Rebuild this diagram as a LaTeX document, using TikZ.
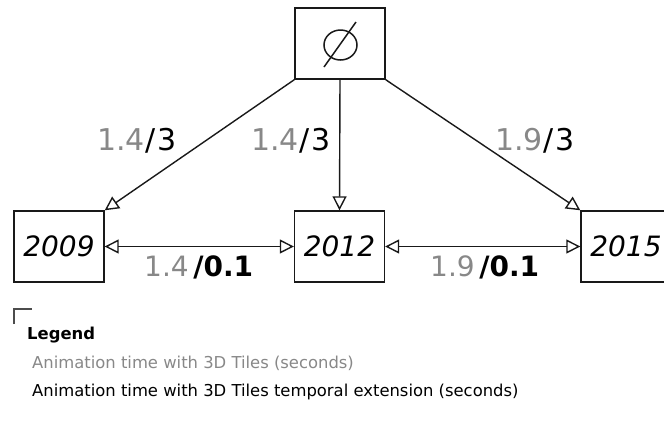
\documentclass[tikz,border=0pt]{standalone}
\usepackage{fontspec}
\setmainfont{DejaVu Sans}
\usetikzlibrary{arrows.meta}
\definecolor{lgray}{RGB}{136,136,136}
\definecolor{lineclr}{RGB}{25,25,25}
\begin{document}
\begin{tikzpicture}[x=1pt,y=-1pt,
  box/.style={draw=lineclr, line width=1.4pt, minimum width=90pt, minimum height=71pt, inner sep=0pt, font=\fontsize{28}{30}\selectfont\itshape},
  conn/.style={draw=lineclr, line width=1.4pt, -{Triangle[open,length=14pt,width=14pt]}},
  bconn/.style={draw=lineclr, line width=1.4pt, {Triangle[open,length=14pt,width=14pt]}-{Triangle[open,length=14pt,width=14pt]}},
  toplbl/.style={font=\fontsize{30}{32}\selectfont, inner sep=0pt, anchor=base west},
  botlbl/.style={font=\fontsize{28}{30}\selectfont, inner sep=0pt, anchor=base west},
  legtext/.style={font=\fontsize{16.4}{20}\selectfont, inner sep=0pt, anchor=base west}
]
\useasboundingbox (0,0) rectangle (664,432);
% boxes
\node[box] (e) at (340,43.5) {};
\node[box] (a) at (59,246.5) {2009};
\node[box] (b) at (339.5,246.5) {2012};
\node[box] (c) at (626,246.5) {2015};
% empty set symbol
\draw[line width=1.5pt, lineclr] (340.5,45) ellipse [x radius=16.5pt, y radius=15pt];
\draw[line width=1.5pt, lineclr] (356,22) -- (324,67);
% connectors
\draw[conn] (e.south west) -- (a.north east);
\draw[conn] (e.south) -- (b.north);
\draw[conn] (e.south east) -- (c.north west);
\draw[bconn] (a.east) -- (b.west);
\draw[bconn] (b.east) -- (c.west);
% labels
\node[toplbl] (l1) at (97,150) {\textcolor{lgray}{1.4}\kern1pt/\kern1pt3};
\node[toplbl] (l2) at (251,150) {\textcolor{lgray}{1.4}\kern1pt/\kern1pt3};
\node[toplbl] (l3) at (495,150) {\textcolor{lgray}{1.9}\kern1pt/\kern1pt3};
\node[botlbl] (l4) at (144,276) {\textcolor{lgray}{1.4}\,\textbf{/0.1}};
\node[botlbl] (l5) at (430,276) {\textcolor{lgray}{1.9}\,\textbf{/0.1}};
% legend
\draw[line width=1.2pt, black!70] (14,324) -- (14,309) -- (32,309);
\node[legtext] (lt) at (27,339) {\textbf{Legend}};
\node[legtext, text=lgray] (lg1) at (32,368) {Animation time with 3D Tiles (seconds)};
\node[legtext] (lg2) at (32,396) {Animation time with 3D Tiles temporal extension (seconds)};
\end{tikzpicture}
\end{document}
